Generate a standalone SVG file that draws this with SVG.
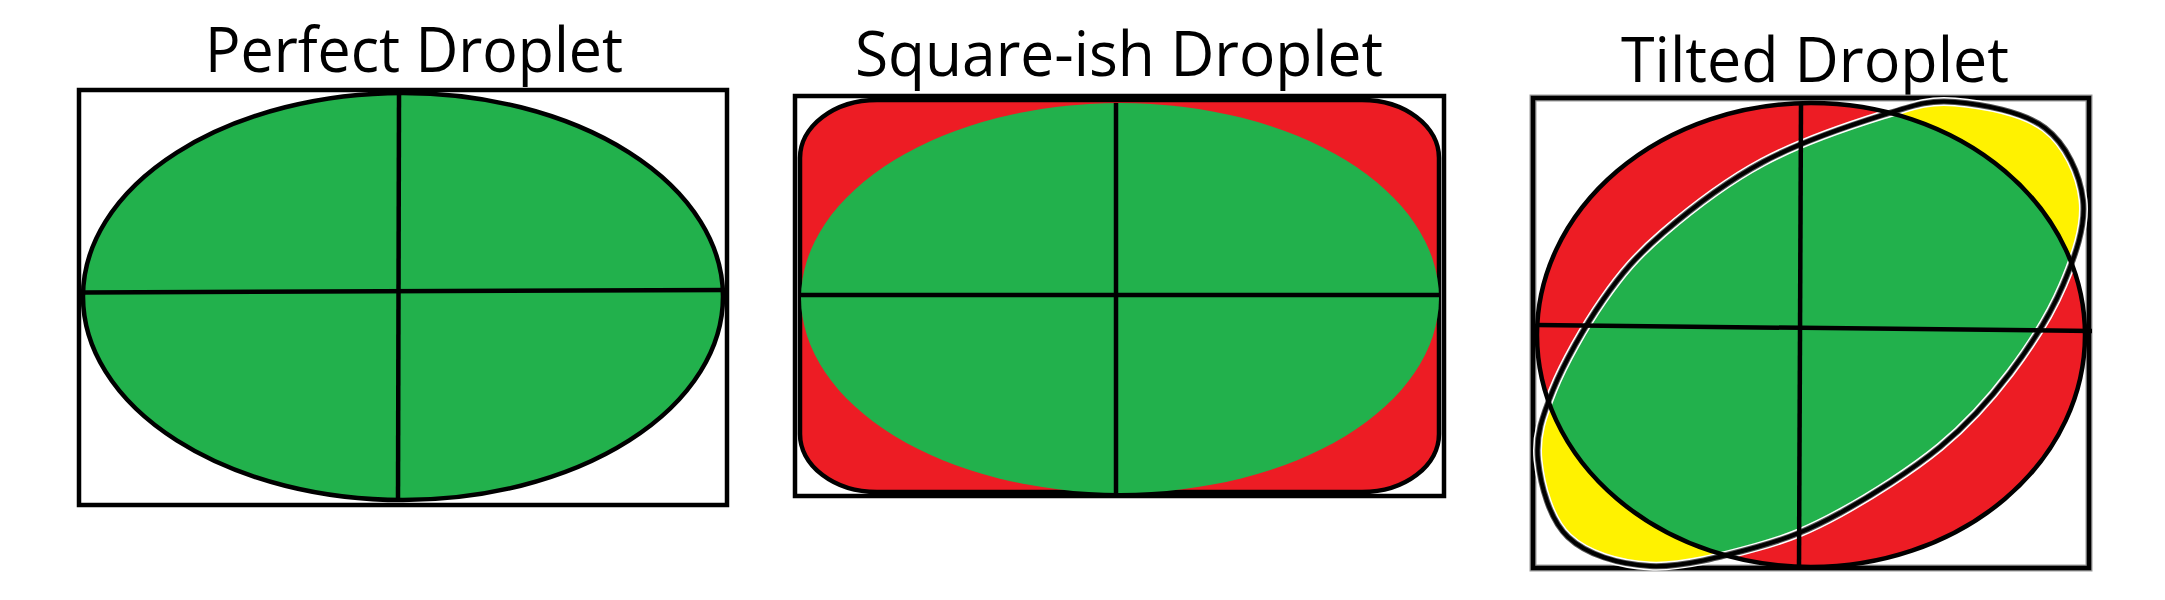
<svg xmlns="http://www.w3.org/2000/svg" width="2165" height="600" viewBox="0 0 2165 600">
<style>
.title{font-family:"Open Sans","Noto Sans","Liberation Sans",sans-serif;font-size:62px;fill:#000}
.frame{fill:none;stroke:#000;stroke-width:4.5}
.ln{stroke:#000;stroke-width:4.5;fill:none;stroke-linecap:butt}
.green{fill:#22B14C}
.red{fill:#ED1C24}
.yellow{fill:#FFF200}
</style>
<defs>
<path id="tilt" d="M1955,102 C1982,104.2 2023.7,111.7 2045,128 C2066.3,144.3 2080,173.8 2083,200 C2086,226.2 2075.2,256.2 2063,285 C2050.8,313.8 2030.5,346 2010,373 C1989.5,400 1968.3,423.7 1940,447 C1911.7,470.3 1870.5,496.3 1840,513 C1809.5,529.7 1788.7,538.2 1757,547 C1725.3,555.8 1681.5,567.7 1650,566 C1618.5,564.3 1586.7,554.7 1568,537 C1549.3,519.3 1540.5,484.5 1538,460 C1535.5,435.5 1542.2,416.7 1553,390 C1563.8,363.3 1584.7,326.2 1603,300 C1621.3,273.8 1636.3,256 1663,233 C1689.7,210 1726.3,181.7 1763,162 C1799.7,142.3 1851,125 1883,115 C1915,105 1928,99.8 1955,102 Z"/>
<clipPath id="circClip"><ellipse cx="1811" cy="335" rx="274" ry="232"/></clipPath>
</defs>

<g id="perfect-droplet">
<text class="title" x="414" y="72" text-anchor="middle" textLength="418" lengthAdjust="spacingAndGlyphs">Perfect Droplet</text>
<rect class="frame" x="79" y="90" width="648" height="415"/>
<ellipse class="green" cx="403" cy="296.5" rx="320" ry="203.5" stroke="#000" stroke-width="4.5"/>
<line class="ln" x1="399" y1="95" x2="398" y2="500"/>
<line class="ln" x1="83" y1="292.5" x2="728" y2="290"/>
</g>

<g id="squareish-droplet">
<text class="title" x="1119" y="76" text-anchor="middle" textLength="528" lengthAdjust="spacingAndGlyphs">Square-ish Droplet</text>
<rect class="frame" x="795" y="96" width="649" height="400"/>
<rect class="red" x="800" y="100" width="639" height="392" rx="77" ry="58" stroke="#000" stroke-width="4.5"/>
<ellipse class="green" cx="1120" cy="298" rx="319" ry="195"/>
<line class="ln" x1="1116" y1="103" x2="1116" y2="493"/>
<line class="ln" x1="801" y1="295" x2="1440" y2="295"/>
</g>

<g id="tilted-droplet">
<text class="title" x="1815" y="82" text-anchor="middle" textLength="388" lengthAdjust="spacingAndGlyphs">Tilted Droplet</text>
<rect x="1533" y="98" width="556" height="470" fill="none" stroke="#999" stroke-width="7"/>
<rect class="frame" x="1533" y="98" width="556" height="470"/>
<ellipse class="red" cx="1811" cy="335" rx="274" ry="232"/>
<use href="#tilt" class="yellow"/>
<use href="#tilt" class="green" clip-path="url(#circClip)"/>
<use href="#tilt" fill="none" stroke="#fff" stroke-width="9"/>
<use href="#tilt" fill="none" stroke="#555" stroke-width="6"/>
<use href="#tilt" fill="none" stroke="#000" stroke-width="4"/>
<ellipse cx="1811" cy="335" rx="274" ry="232" fill="none" stroke="#000" stroke-width="4.5"/>
<line class="ln" x1="1801" y1="103" x2="1799" y2="568"/>
<line class="ln" x1="1537" y1="325" x2="2092" y2="331"/>
</g>

<g id="connectors"></g>
</svg>
